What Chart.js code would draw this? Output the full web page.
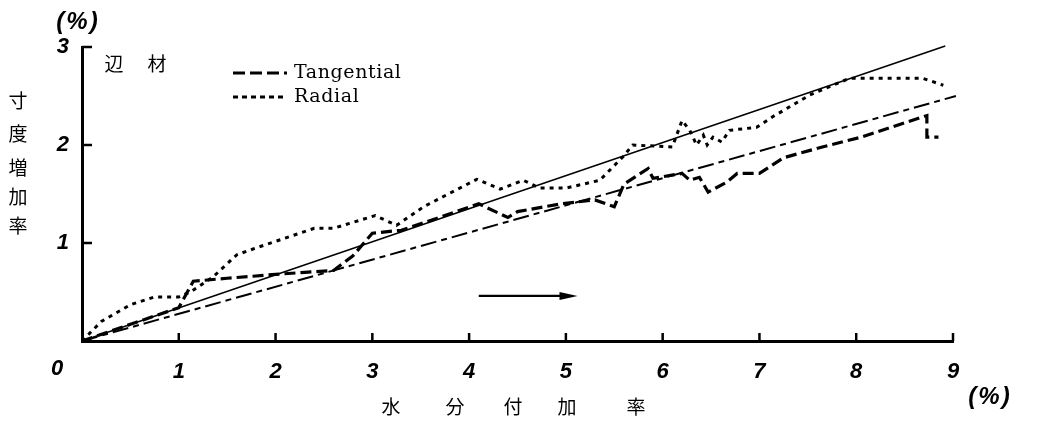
<!DOCTYPE html>
<html><head><meta charset="utf-8">
<script src="https://cdn.jsdelivr.net/npm/chart.js@4/dist/chart.umd.min.js"></script>
<style>html,body{margin:0;padding:0;background:#fff;}#wrap{width:1043px;height:421px;}</style>
</head><body><div id="wrap"><canvas id="c" width="1043" height="421"></canvas></div>
<script>
// ---- data ----
const xTickValues = [0,1,2,3,4,5,6,7,8,9];
const yTickValues = [0,1,2,3];
const tangX = [0,0.5,1.0,1.15,1.5,2.0,2.3,2.6,2.8,3.0,3.3,3.6,4.1,4.4,4.5,4.95,5.3,5.5,5.6,5.85,5.9,6.2,6.28,6.38,6.47,6.66,6.77,7.0,7.25,7.65,8.05,8.73,8.73,8.85];
const tangY = [0,0.17,0.34,0.61,0.64,0.68,0.70,0.72,0.87,1.10,1.13,1.23,1.40,1.26,1.32,1.40,1.44,1.37,1.60,1.76,1.66,1.71,1.64,1.67,1.52,1.62,1.71,1.71,1.87,1.98,2.08,2.30,2.08,2.08];
const radX = [0,0.2,0.5,0.75,1.0,1.12,1.35,1.6,1.8,2.25,2.4,2.6,3.03,3.25,3.53,4.08,4.32,4.56,4.73,5.0,5.35,5.59,5.69,6.1,6.2,6.28,6.35,6.42,6.46,6.52,6.61,6.69,6.97,7.14,7.52,7.93,8.69,8.9];
const radY = [0,0.2,0.37,0.45,0.45,0.5,0.65,0.88,0.95,1.1,1.15,1.15,1.28,1.18,1.37,1.65,1.55,1.64,1.56,1.56,1.64,1.88,2.0,1.98,2.25,2.15,2.0,2.1,2.0,2.08,2.03,2.15,2.18,2.29,2.51,2.68,2.68,2.61];
const refSolidX = [0,8.92], refSolidY = [0,3.01];
const refDashX = [0,9.03], refDashY = [0,2.5];
const arrowX = [4.1,5.12], arrowY = [0.46,0.46];
const seriesNames = ['Tangential','Radial'];
const sapwoodLabel = ['辺','材'];
const yTitleChars = ['寸','度','増','加','率'];
const xTitleChars = ['水','分','付','加','率'];
const unitLabel = '(%)';

const zip = (xs, ys) => xs.map((x,i)=>({x, y: ys[i]}));
const TICKFONT = 'italic bold 22px "Liberation Sans", Arial, sans-serif';

const decor = {
  id: 'decor',
  afterDraw(chart) {
    const ctx = chart.ctx, xs = chart.scales.x, ys = chart.scales.y;
    ctx.save();
    ctx.strokeStyle = '#000'; ctx.fillStyle = '#000';
    // inward ticks
    ctx.lineWidth = 2.5; ctx.setLineDash([]);
    const x0 = xs.getPixelForValue(0), y0 = ys.getPixelForValue(0);
    xTickValues.forEach(v => { if (v===0) return; const px = xs.getPixelForValue(v);
      ctx.beginPath(); ctx.moveTo(px, y0); ctx.lineTo(px, y0-8); ctx.stroke(); });
    yTickValues.forEach(v => { if (v===0) return; const py = ys.getPixelForValue(v);
      ctx.beginPath(); ctx.moveTo(x0, py); ctx.lineTo(x0+10, py); ctx.stroke(); });
    // origin label
    ctx.font = TICKFONT; ctx.textAlign = 'center'; ctx.textBaseline = 'middle';
    ctx.fillText('0', x0-25, y0+28);
    // unit labels
    ctx.font = 'italic bold 24px "Liberation Sans", Arial, sans-serif';
    if ('letterSpacing' in ctx) ctx.letterSpacing = '2px';
    ctx.fillText(unitLabel, x0-4, 22);
    ctx.fillText(unitLabel, 990, 397);
    if ('letterSpacing' in ctx) ctx.letterSpacing = '0px';
    // arrow
    const ax1 = xs.getPixelForValue(arrowX[0]), ax2 = xs.getPixelForValue(arrowX[1]);
    const ay = ys.getPixelForValue(arrowY[0]);
    ctx.lineWidth = 2.2; ctx.beginPath(); ctx.moveTo(ax1, ay); ctx.lineTo(ax2-12, ay); ctx.stroke();
    ctx.beginPath(); ctx.moveTo(ax2, ay); ctx.lineTo(ax2-18, ay-4); ctx.lineTo(ax2-18, ay+4); ctx.closePath(); ctx.fill();
    // CJK texts
    ctx.font = '19px "Noto Sans CJK JP", sans-serif';
    ctx.fillText(sapwoodLabel[0], 114, 64);
    ctx.fillText(sapwoodLabel[1], 157, 64);
    const yc = [101,134,168,197,226];
    yTitleChars.forEach((c,i)=>ctx.fillText(c, 18, yc[i]));
    const xc = [391,455,513,567,636];
    xTitleChars.forEach((c,i)=>ctx.fillText(c, xc[i], 407));
    // legend
    const ds = chart.data.datasets;
    const legY = [73, 97];
    [0,1].forEach(i => {
      ctx.lineWidth = ds[i].borderWidth; ctx.setLineDash(ds[i].legendDash);
      ctx.beginPath(); ctx.moveTo(233, legY[i]); ctx.lineTo(287, legY[i]); ctx.stroke();
      ctx.setLineDash([]);
      ctx.font = '19px "DejaVu Serif", serif';
      if ('letterSpacing' in ctx) ctx.letterSpacing = '0.6px';
      ctx.textAlign = 'left'; ctx.textBaseline = 'middle';
      ctx.fillText(ds[i].label, 294, legY[i]);
      if ('letterSpacing' in ctx) ctx.letterSpacing = '0px';
      ctx.textAlign = 'center';
    });
    ctx.restore();
  }
};

const tickFont = { family: '"Liberation Sans", Arial, sans-serif', size: 22, style: 'italic', weight: 'bold' };

new Chart(document.getElementById('c'), {
  type: 'scatter',
  data: { datasets: [
    { label: seriesNames[0], data: zip(tangX, tangY), showLine: true, borderColor: '#000', borderWidth: 3.2, borderDash: [11,5], legendDash: [12,5], pointRadius: 0, tension: 0, clip: false },
    { label: seriesNames[1], data: zip(radX, radY), showLine: true, borderColor: '#000', borderWidth: 3, borderDash: [4,5], legendDash: [5,4], pointRadius: 0, tension: 0, clip: false },
    { label: 'ref1', data: zip(refSolidX, refSolidY), showLine: true, borderColor: '#000', borderWidth: 1.5, pointRadius: 0, clip: false },
    { label: 'ref2', data: zip(refDashX, refDashY), showLine: true, borderColor: '#000', borderWidth: 2, borderDash: [16,5,6,5], pointRadius: 0, clip: false }
  ]},
  options: {
    responsive: false, animation: false, devicePixelRatio: 1,
    layout: { padding: { top: 47, left: 0, right: 90, bottom: 30 } },
    plugins: { legend: { display: false }, tooltip: { enabled: false } },
    scales: {
      x: { type: 'linear', min: 0, max: 9,
        afterBuildTicks: s => { s.ticks = xTickValues.map(v => ({value: v})); },
        afterFit: s => { s.height = 50; },
        grid: { display: false, drawTicks: false }, border: { display: true, width: 3, color: '#000' },
        ticks: { color: '#000', padding: 18, font: tickFont,
          callback: v => v === 0 ? '' : String(v) } },
      y: { type: 'linear', min: 0, max: 3,
        afterBuildTicks: s => { s.ticks = yTickValues.map(v => ({value: v})); },
        afterFit: s => { s.width = 82; },
        grid: { display: false, drawTicks: false }, border: { display: true, width: 3, color: '#000' },
        ticks: { color: '#000', padding: 13, font: tickFont,
          callback: v => v === 0 ? '' : String(v) } }
    }
  },
  plugins: [decor]
});
</script></body></html>
